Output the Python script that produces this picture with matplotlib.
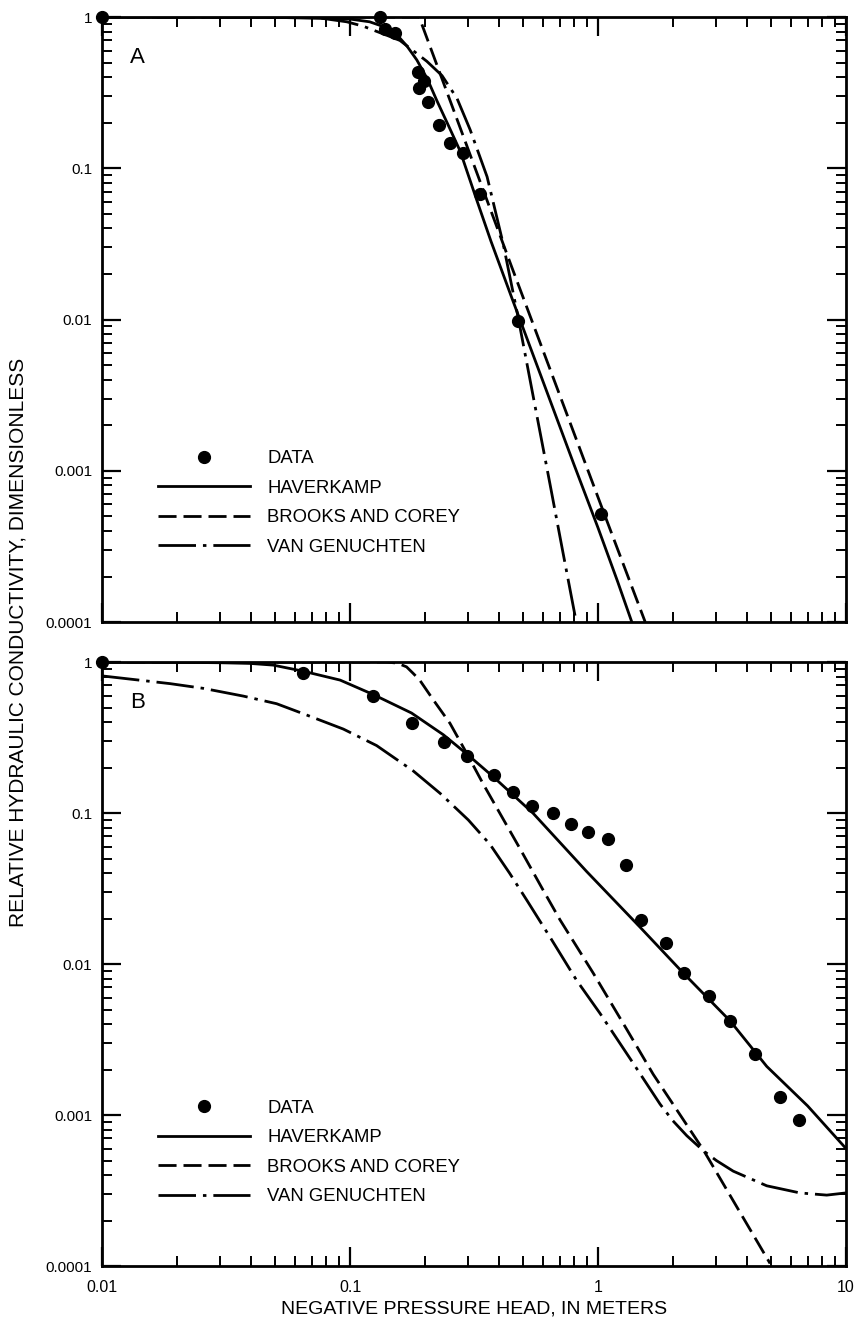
import numpy as np
import matplotlib
matplotlib.use('Agg')
import matplotlib.pyplot as plt
from matplotlib.ticker import NullFormatter

plt.rcParams['font.family'] = ['Liberation Sans', 'DejaVu Sans']
plt.rcParams['lines.scale_dashes'] = False

# ---- panel A ----
a_data_x = [0.01, 0.132, 0.138, 0.152, 0.188, 0.189, 0.198, 0.207, 0.228, 0.253, 0.286, 0.334, 0.476, 1.03]
a_data_y = [1.0, 1.0, 0.83, 0.78, 0.43, 0.34, 0.38, 0.275, 0.193, 0.147, 0.126, 0.068, 0.0098, 0.00052]

a_hav_x = [0.01, 0.05, 0.1, 0.12, 0.135, 0.155, 0.17, 0.186, 0.205, 0.224, 0.25, 0.278, 0.324,
           0.37, 0.45, 0.6, 0.8, 1.0, 1.2, 1.4]
a_hav_y = [1.0, 0.995, 0.97, 0.93, 0.87, 0.76, 0.64, 0.52, 0.39, 0.28, 0.19, 0.13, 0.062,
           0.033, 0.0138, 0.0039, 0.0011, 4.2e-4, 1.85e-4, 9.0e-5]

a_bc_x = [0.01, 0.19, 0.45, 1.05, 1.55]
a_bc_y = [1.0, 1.0, 0.022, 5.4e-4, 1.0e-4]

a_vg_x = [0.01, 0.05, 0.074, 0.097, 0.113, 0.124, 0.14, 0.159, 0.204, 0.235, 0.27, 0.305,
          0.357, 0.414, 0.476, 0.55, 0.64, 0.72, 0.82]
a_vg_y = [1.0, 0.998, 0.99, 0.93, 0.87, 0.82, 0.76, 0.70, 0.51, 0.41, 0.29, 0.18,
          0.088, 0.032, 0.0104, 0.0030, 8.2e-4, 2.96e-4, 9.7e-5]

# ---- panel B ----
b_data_x = [0.01, 0.0648, 0.124, 0.177, 0.239, 0.297, 0.381, 0.455, 0.541, 0.656, 0.776,
            0.914, 1.094, 1.297, 1.49, 1.88, 2.22, 2.79, 3.41, 4.3, 5.42, 6.46]
b_data_y = [1.0, 0.85, 0.595, 0.396, 0.297, 0.238, 0.178, 0.138, 0.111, 0.0995, 0.0846,
            0.0752, 0.067, 0.0453, 0.0196, 0.0137, 0.00875, 0.00614, 0.0042, 0.00252, 0.00131, 0.00093]

b_hav_x = [0.01, 0.02, 0.03, 0.0395, 0.049, 0.0648, 0.0912, 0.124, 0.177, 0.238, 0.297, 0.381,
           0.548, 0.9, 1.48, 2.21, 3.41, 4.79, 7.0, 10.0]
b_hav_y = [1.0, 0.997, 0.99, 0.98, 0.955, 0.87, 0.76, 0.61, 0.46, 0.33, 0.245, 0.172,
           0.0995, 0.041, 0.0175, 0.0087, 0.0042, 0.0021, 0.00115, 6.0e-4]

b_bc_x = [0.01, 0.14, 0.155, 0.169, 0.18, 0.191, 0.217, 0.253, 0.297, 0.345, 0.403, 0.485,
          0.6, 0.703, 0.957, 1.305, 1.67, 2.66, 4.94]
b_bc_y = [1.0, 1.0, 0.985, 0.93, 0.84, 0.76, 0.56, 0.393, 0.245, 0.155, 0.099, 0.058,
          0.031, 0.0196, 0.0087, 0.0037, 0.00186, 5.87e-4, 1.04e-4]

b_vg_x = [0.01, 0.0188, 0.0256, 0.0372, 0.0506, 0.0648, 0.094, 0.128, 0.18, 0.231, 0.3, 0.367,
          0.44, 0.52, 0.65, 0.82, 1.02, 1.387, 1.78, 2.0, 2.28, 2.66, 3.0, 3.51, 4.79, 6.52, 8.36, 10.0]
b_vg_y = [0.81, 0.72, 0.67, 0.595, 0.53, 0.455, 0.36, 0.28, 0.19, 0.135, 0.09, 0.062,
          0.04, 0.026, 0.0145, 0.0078, 0.0047, 0.0022, 0.00118, 9.2e-4, 7.3e-4, 5.8e-4, 5.0e-4,
          4.25e-4, 3.4e-4, 3.05e-4, 2.95e-4, 3.05e-4]

x_ticks = [0.01, 0.1, 1, 10]
x_tick_labels = ['0.01', '0.1', '1', '10']
y_ticks = [1e-4, 1e-3, 1e-2, 1e-1, 1]
y_tick_labels = ['0.0001', '0.001', '0.01', '0.1', '1']
legend_labels = ['DATA', 'HAVERKAMP', 'BROOKS AND COREY', 'VAN GENUCHTEN']

DASH = (0, (13, 5))
DASHDOT = (0, (27, 5, 2.5, 5))


def draw_panel(ax, dx, dy, hx, hy, bx, by, vx, vy, letter, show_x, leg_y):
    h1, = ax.plot(dx, dy, 'o', color='k', ms=8.5, clip_on=False, zorder=5)
    h2, = ax.plot(hx, hy, '-', color='k', lw=2.0)
    h3, = ax.plot(bx, by, color='k', lw=2.0, linestyle=DASH)
    h4, = ax.plot(vx, vy, color='k', lw=2.0, linestyle=DASHDOT)
    ax.set_xscale('log')
    ax.set_yscale('log')
    ax.set_xlim(0.01, 10)
    ax.set_ylim(1e-4, 1)
    ax.set_xticks(x_ticks, x_tick_labels if show_x else [])
    ax.set_yticks(y_ticks, y_tick_labels)
    ax.xaxis.set_minor_formatter(NullFormatter())
    ax.yaxis.set_minor_formatter(NullFormatter())
    ax.tick_params(which='both', direction='in', top=True, right=True, colors='k')
    ax.tick_params(which='major', length=14, width=1.6, labelsize=11, pad=7)
    ax.tick_params(which='minor', length=7, width=1.4)
    ax.tick_params(axis='x', which='major', labelsize=11.5, pad=10)
    for s in ax.spines.values():
        s.set_linewidth(2.0)
    ax.text(0.048, 0.933, letter, transform=ax.transAxes, fontsize=16,
            ha='center', va='center')
    ax.legend([h1, h2, h3, h4], legend_labels, loc='lower left',
              bbox_to_anchor=(0.0753, leg_y), borderaxespad=0, borderpad=0,
              frameon=False, fontsize=13.3, handlelength=5.0, handletextpad=0.9,
              labelspacing=0.67, numpoints=1)


fig = plt.figure(figsize=(8.55, 13.21), dpi=100)
ax_a = fig.add_axes([0.1193, 0.5291, 0.8702, 0.4580])
ax_b = fig.add_axes([0.1193, 0.0416, 0.8702, 0.4572])

draw_panel(ax_a, a_data_x, a_data_y, a_hav_x, a_hav_y, a_bc_x, a_bc_y, a_vg_x, a_vg_y,
           'A', False, 0.110)
draw_panel(ax_b, b_data_x, b_data_y, b_hav_x, b_hav_y, b_bc_x, b_bc_y, b_vg_x, b_vg_y,
           'B', True, 0.101)

ax_b.set_xlabel('NEGATIVE PRESSURE HEAD, IN METERS', fontsize=14, labelpad=4)
fig.text(0.021, 0.514, 'RELATIVE HYDRAULIC CONDUCTIVITY, DIMENSIONLESS',
         rotation=90, ha='center', va='center', fontsize=15)

fig.savefig('out.png', dpi=100, facecolor='white')
